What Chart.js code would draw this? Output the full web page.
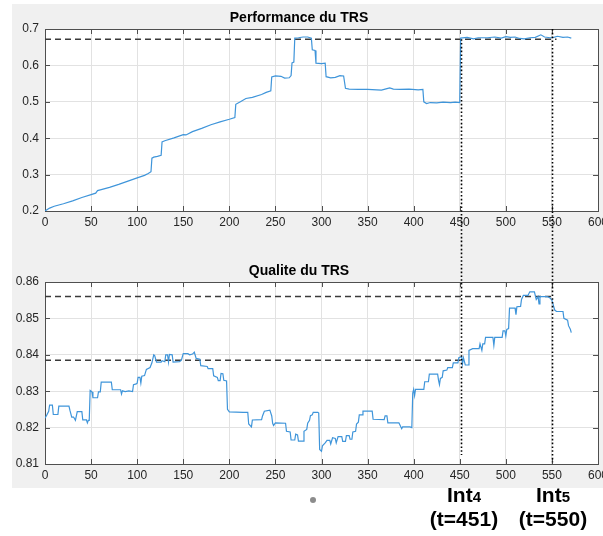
<!DOCTYPE html>
<html>
<head>
<meta charset="utf-8">
<script src="https://cdn.jsdelivr.net/npm/chart.js@4/dist/chart.umd.min.js"></script>
<style>
  html, body { margin: 0; padding: 0; width: 603px; height: 536px; overflow: hidden; background: #fff; }
  body { position: relative; font-family: "Liberation Sans", Arial, Helvetica, sans-serif; }
  #fig { position: absolute; left: 12px; top: 4px; width: 591px; height: 484px; background: #f0f0f0; }
  canvas { position: absolute; left: 0; }
  .mark { position: absolute; width: 120px; text-align: center; font-weight: bold; font-size: 21px; line-height: 22px; color: #000; }
  .mark sub { font-size: 15px; vertical-align: baseline; }
  .dot { position: absolute; left: 310px; top: 497px; width: 6px; height: 6px; border-radius: 50%; background: #8c8c8c; }
</style>
</head>
<body>
<div id="fig"></div>
<canvas id="perf" width="620" height="245" style="top:0"></canvas>
<canvas id="qual" width="620" height="245" style="top:245px"></canvas>
<div class="dot"></div>
<div class="mark" style="left:404px; top:484px">Int<sub>4</sub><br>(t=451)</div>
<div class="mark" style="left:493px; top:484px">Int<sub>5</sub><br>(t=550)</div>
<script>
// ---- Performance du TRS ----
const perfT = [0, 5, 10, 20, 30, 40, 50, 55, 57, 60, 70, 80, 90, 100, 108, 112, 115, 116, 118, 122, 126, 127, 130, 140, 150, 153, 160, 170, 180, 190, 200, 206, 207, 212, 218, 225, 235, 240, 245, 246, 250, 256, 260, 265, 267, 268, 270, 271, 275, 280, 285, 289, 290, 293, 294, 300, 304, 305, 310, 315, 320, 324, 326, 330, 340, 350, 360, 365, 368, 374, 378, 385, 395, 405, 410, 411, 414, 418, 425, 432, 440, 445, 450, 451, 458, 465, 470, 480, 488, 495, 500, 505, 510, 515, 520, 526, 532, 538, 542, 548, 552, 556, 562, 567, 571];
const perfV = [0.200, 0.208, 0.213, 0.220, 0.228, 0.237, 0.245, 0.249, 0.256, 0.258, 0.265, 0.273, 0.282, 0.291, 0.298, 0.303, 0.308, 0.345, 0.348, 0.350, 0.353, 0.390, 0.393, 0.401, 0.410, 0.409, 0.418, 0.427, 0.437, 0.445, 0.452, 0.457, 0.493, 0.500, 0.509, 0.512, 0.520, 0.526, 0.530, 0.568, 0.571, 0.570, 0.565, 0.566, 0.572, 0.607, 0.609, 0.675, 0.676, 0.678, 0.678, 0.675, 0.643, 0.641, 0.606, 0.605, 0.606, 0.569, 0.566, 0.567, 0.572, 0.571, 0.537, 0.535, 0.534, 0.534, 0.533, 0.532, 0.534, 0.538, 0.535, 0.534, 0.535, 0.533, 0.534, 0.500, 0.495, 0.498, 0.497, 0.499, 0.498, 0.499, 0.498, 0.675, 0.677, 0.673, 0.676, 0.676, 0.678, 0.675, 0.679, 0.677, 0.678, 0.674, 0.673, 0.676, 0.677, 0.684, 0.678, 0.676, 0.677, 0.680, 0.677, 0.678, 0.675];
const perfRefT = [0, 555];
const perfRefV = [0.672, 0.672];

// ---- Qualite du TRS ----
const qualT = [0, 2, 4, 5, 8, 9, 14, 15, 26, 27, 29, 31, 33, 35, 36, 40, 41, 45, 46, 47, 48, 49, 51, 52, 57, 58, 60, 61, 72, 73, 82, 83, 84, 87, 91, 95, 96, 99, 100, 101, 103, 104, 105, 108, 110, 114, 116, 118, 119, 121, 126, 127, 130, 131, 133, 134, 135, 138, 139, 146, 148, 150, 155, 157, 160, 162, 164, 168, 169, 176, 177, 182, 183, 187, 188, 190, 191, 193, 194, 197, 198, 200, 215, 220, 221, 224, 225, 235, 236, 238, 244, 246, 247, 248, 250, 261, 262, 266, 267, 271, 272, 274, 275, 280, 281, 284, 285, 287, 288, 290, 291, 296, 297, 298, 300, 301, 304, 306, 309, 310, 312, 315, 316, 318, 322, 323, 326, 327, 330, 331, 333, 334, 337, 338, 340, 341, 344, 345, 355, 356, 368, 369, 371, 372, 384, 385, 387, 388, 396, 398, 399, 400, 401, 402, 411, 412, 416, 417, 426, 427, 428, 429, 431, 432, 436, 437, 442, 443, 448, 449, 452, 453, 454, 455, 456, 459, 460, 464, 471, 472, 473, 474, 475, 477, 478, 486, 487, 488, 496, 497, 499, 500, 501, 503, 504, 510, 511, 512, 516, 517, 519, 524, 526, 531, 533, 535, 536, 537, 545, 548, 550, 553, 555, 562, 563, 567, 568, 570, 571];
const qualV = [0.8226, 0.8235, 0.8245, 0.8262, 0.8262, 0.8236, 0.8236, 0.8259, 0.8259, 0.8248, 0.8229, 0.8229, 0.8220, 0.8244, 0.8244, 0.8244, 0.8221, 0.8221, 0.8213, 0.8220, 0.8220, 0.8302, 0.8298, 0.8282, 0.8282, 0.8298, 0.8298, 0.8325, 0.8325, 0.8304, 0.8304, 0.8292, 0.8301, 0.8299, 0.8301, 0.8299, 0.8318, 0.8320, 0.8322, 0.8338, 0.8338, 0.8322, 0.8341, 0.8343, 0.8360, 0.8365, 0.8378, 0.8400, 0.8398, 0.8380, 0.8380, 0.8384, 0.8381, 0.8400, 0.8400, 0.8380, 0.8401, 0.8400, 0.8380, 0.8381, 0.8385, 0.8403, 0.8403, 0.8400, 0.8402, 0.8407, 0.8390, 0.8388, 0.8370, 0.8368, 0.8362, 0.8362, 0.8342, 0.8338, 0.8329, 0.8329, 0.8349, 0.8348, 0.8330, 0.8328, 0.8250, 0.8243, 0.8242, 0.8242, 0.8210, 0.8202, 0.8221, 0.8222, 0.8232, 0.8245, 0.8248, 0.8232, 0.8212, 0.8206, 0.8213, 0.8212, 0.8190, 0.8188, 0.8166, 0.8166, 0.8182, 0.8180, 0.8163, 0.8163, 0.8190, 0.8195, 0.8212, 0.8220, 0.8233, 0.8235, 0.8242, 0.8242, 0.8240, 0.8140, 0.8135, 0.8150, 0.8158, 0.8165, 0.8165, 0.8155, 0.8172, 0.8170, 0.8158, 0.8175, 0.8175, 0.8162, 0.8162, 0.8178, 0.8178, 0.8168, 0.8168, 0.8188, 0.8190, 0.8210, 0.8215, 0.8235, 0.8235, 0.8245, 0.8245, 0.8223, 0.8222, 0.8232, 0.8232, 0.8213, 0.8213, 0.8208, 0.8197, 0.8202, 0.8202, 0.8200, 0.8295, 0.8305, 0.8288, 0.8305, 0.8305, 0.8326, 0.8326, 0.8347, 0.8347, 0.8330, 0.8318, 0.8335, 0.8338, 0.8356, 0.8358, 0.8365, 0.8365, 0.8378, 0.8378, 0.8392, 0.8395, 0.8375, 0.8392, 0.8382, 0.8372, 0.8372, 0.8412, 0.8417, 0.8417, 0.8430, 0.8430, 0.8412, 0.8430, 0.8430, 0.8448, 0.8448, 0.8426, 0.8448, 0.8448, 0.8466, 0.8466, 0.8452, 0.8470, 0.8472, 0.8528, 0.8528, 0.8510, 0.8532, 0.8533, 0.8552, 0.8563, 0.8563, 0.8573, 0.8573, 0.8552, 0.8560, 0.8540, 0.8560, 0.8560, 0.8556, 0.8550, 0.8523, 0.8519, 0.8519, 0.8500, 0.8495, 0.8480, 0.8470, 0.8461];
const qualRefHighT = [0, 550];
const qualRefHighV = [0.856, 0.856];
const qualRefLowT = [0, 451];
const qualRefLowV = [0.8385, 0.8385];

// intervention instants and the value where each dotted marker starts / ends
const markerT = [451, 550];
const markerTopStart = [0.672, 0.7];
const markerQualEnd = [0.8125, 0.8105];

const xTicks = { min: 0, max: 600, step: 50 };

Chart.defaults.font.family = '"Liberation Sans", Arial, Helvetica, sans-serif';
Chart.defaults.font.size = 12;

const pts = (ts, vs) => ts.map((t, i) => ({ x: t, y: vs[i] }));

// white plot background, axis box with inward ticks, dotted markers
const axesBox = {
  id: 'axesBox',
  beforeDraw(chart) {
    const a = chart.chartArea, c = chart.ctx;
    c.save();
    c.fillStyle = '#ffffff';
    c.fillRect(a.left, a.top, a.right - a.left, a.bottom - a.top);
    c.restore();
  },
  beforeDatasetsDraw(chart) {
    const a = chart.chartArea, c = chart.ctx;
    const xs = chart.scales.x, ys = chart.scales.y;
    c.save();
    c.strokeStyle = '#4f4f4f';
    c.lineWidth = 1;
    c.beginPath();
    xs.ticks.forEach(tk => {
      const px = Math.round(xs.getPixelForValue(tk.value)) + 0.5;
      c.moveTo(px, a.bottom); c.lineTo(px, a.bottom - 5);
      c.moveTo(px, a.top); c.lineTo(px, a.top + 5);
    });
    ys.ticks.forEach(tk => {
      const py = Math.round(ys.getPixelForValue(tk.value)) + 0.5;
      c.moveTo(a.left, py); c.lineTo(a.left + 5, py);
      c.moveTo(a.right, py); c.lineTo(a.right - 5, py);
    });
    c.stroke();
    c.strokeRect(Math.round(a.left) + 0.5, Math.round(a.top) + 0.5,
                 Math.round(a.right - a.left), Math.round(a.bottom - a.top));
    c.restore();
  },
  afterDraw(chart, args, opts) {
    if (!opts.markers) return;
    const c = chart.ctx, xs = chart.scales.x, ys = chart.scales.y;
    c.save();
    c.strokeStyle = '#000';
    c.lineWidth = 1.6;
    c.setLineDash([1.6, 2.2]);
    markerT.forEach((t, i) => {
      const px = Math.round(xs.getPixelForValue(t)) + 0.5;
      let y0, y1;
      if (opts.markers === 'top') { y0 = ys.getPixelForValue(markerTopStart[i]); y1 = chart.height; }
      else { y0 = 0; y1 = ys.getPixelForValue(markerQualEnd[i]); }
      c.beginPath(); c.moveTo(px, y0); c.lineTo(px, y1); c.stroke();
    });
    c.restore();
  }
};

function makeChart(id, title, titlePad, xHeight, yOpts, datasets, markers) {
  return new Chart(document.getElementById(id), {
    type: 'line',
    data: { datasets },
    options: {
      responsive: false,
      animation: false,
      layout: { padding: { left: 0, right: 22, top: 0, bottom: 0 } },
      elements: { point: { radius: 0 }, line: { tension: 0 } },
      plugins: {
        legend: { display: false },
        tooltip: { enabled: false },
        title: { display: true, text: title, color: '#000', font: { size: 14, weight: 'bold' }, padding: titlePad },
        axesBox: { markers }
      },
      scales: {
        x: {
          type: 'linear', min: xTicks.min, max: xTicks.max,
          ticks: { stepSize: xTicks.step, padding: 4, color: '#262626', maxRotation: 0, autoSkip: false },
          grid: { color: '#e2e2e2', drawTicks: false },
          border: { display: false },
          afterFit: s => { s.height = xHeight; }
        },
        y: Object.assign({
          grid: { color: '#e2e2e2', drawTicks: false },
          border: { display: false },
          afterFit: s => { s.width = 45; }
        }, yOpts)
      }
    },
    plugins: [axesBox]
  });
}

const lineBlue = '#3f95da';
const refStyle = { borderColor: '#3a3a3a', borderWidth: 1.4, borderDash: [6, 4], fill: false };

makeChart('perf', 'Performance du TRS', { top: 9.6, bottom: 2.6 }, 34,
  { min: 0.2, max: 0.7, ticks: { stepSize: 0.1, padding: 6, color: '#262626', callback: v => v.toFixed(1) } },
  [
    { data: pts(perfT, perfV), borderColor: lineBlue, borderWidth: 1.2, order: 0 },
    Object.assign({ data: pts(perfRefT, perfRefV), order: 1 }, refStyle)
  ], 'top');

makeChart('qual', 'Qualite du TRS', { top: 17.6, bottom: 2.6 }, 26,
  { min: 0.81, max: 0.86, ticks: { stepSize: 0.01, padding: 6, color: '#262626', callback: v => v.toFixed(2) } },
  [
    { data: pts(qualT, qualV), borderColor: lineBlue, borderWidth: 1.2, order: 0 },
    Object.assign({ data: pts(qualRefHighT, qualRefHighV), order: 1 }, refStyle),
    Object.assign({ data: pts(qualRefLowT, qualRefLowV), order: 1 }, refStyle)
  ], 'bottom');
</script>
</body>
</html>
